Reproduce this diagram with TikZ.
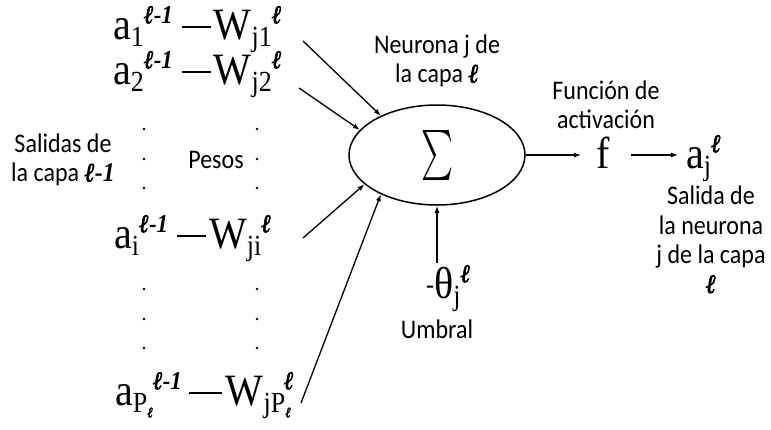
\documentclass[tikz,border=0pt]{standalone}
\usepackage{fontspec}
\usepackage{graphicx}
\setmainfont{Carlito}
\newfontfamily\tms{Liberation Serif}
\newfontface\ellf[FakeBold=2.5]{Liberation Serif Bold Italic}
\usetikzlibrary{shapes.geometric,arrows.meta}
\newcommand\vs[1]{\scalebox{1}[1.12]{#1}}
\newcommand\lblfont{\fontsize{24}{26.3}\selectfont}
\newcommand\mfont{\tms\fontsize{40}{44}\selectfont}
\newcommand\elx{{\ellf ℓ}}
\newcommand\subx[1]{\raisebox{-7pt}{\fontsize{26}{26}\selectfont #1}}
\newcommand\supx[1]{\raisebox{14pt}{\fontsize{23}{23}\selectfont\bfseries\itshape #1}}
\newcommand\dsh{\hspace{9pt}\rule[10pt]{29pt}{1.5pt}\hspace{3pt}}
\newcommand\dshw{\hspace{7pt}\rule[10pt]{33pt}{1.5pt}\hspace{4pt}}
\newcommand\pell{P\raisebox{-4pt}{\fontsize{13}{13}\selectfont\elx}}
\tikzset{
  mrow/.style={anchor=base west, inner sep=0pt, font=\mfont},
  mth/.style={inner sep=0pt, font=\mfont},
  lbl/.style={inner sep=0pt, font=\lblfont},
  arr/.style={-{Latex[length=7pt,width=5pt]}, line width=1.3pt},
  dot/.style={circle, fill, inner sep=0pt, minimum size=2.6pt},
  neuronbox/.style={draw, ellipse, line width=1.5pt, minimum width=176pt, minimum height=100pt, inner sep=0pt}
}
\begin{document}
\begin{tikzpicture}[x=1pt,y=-1pt]
\useasboundingbox (0,0) rectangle (771,429);
\fill[white] (0,0) rectangle (771,429);
% input rows
\node[mrow] (r1) at (113,39) {\vs{a\subx{1}\supx{\elx-1}\dsh W\subx{j1}\supx{\elx}}};
\node[mrow] (r2) at (113,84) {\vs{a\subx{2}\supx{\elx-1}\dsh W\subx{j2}\supx{\elx}}};
\node[mrow] (ri) at (114,248) {\vs{a\subx{i}\supx{\elx-1}\dsh W\subx{ji}\supx{\elx}}};
\node[mrow] (rP) at (115,405) {\vs{a\subx{\pell}\supx{\elx-1}\dshw W\subx{j\pell}\hspace{-7pt}\supx{\elx}}};
% dots
\foreach \yy [count=\k] in {129,159,188,289,319,348} {
  \node[dot] (dl\k) at (144,\yy) {};
  \node[dot] (dr\k) at (257,\yy) {};
}
% neuron
\node[neuronbox] (neuron) at (437,155) {\resizebox*{32pt}{50pt}{$\sum$}};
% output
\node[mth, anchor=base] (f) at (603,168) {\vs{f}};
\node[mth, anchor=base west] (aj) at (686,168) {\vs{a\subx{j}\supx{\elx}}};
% threshold
\node[mth, anchor=base west] (th) at (426,298) {\vs{\raisebox{4pt}{\fontsize{24}{24}\selectfont -}θ\subx{j}\supx{\elx}}};
% labels
\node[lbl] (salidas) at (63,161) {\vs{\begin{tabular}{@{}c@{}}Salidas de\\la capa \elx{\tms\bfseries\itshape -1}\end{tabular}}};
\node[lbl, anchor=base] (pesos) at (216,168) {\vs{Pesos}};
\node[lbl] (neulbl) at (437,62) {\vs{\begin{tabular}{@{}c@{}}Neurona j de\\la capa \elx\end{tabular}}};
\node[lbl] (funlbl) at (606,108) {\vs{\begin{tabular}{@{}c@{}}Función de\\activación\end{tabular}}};
\node[lbl] (sallbl) at (711,243) {\vs{\begin{tabular}{@{}c@{}}Salida de\\la neurona\\j de la capa\\\elx\end{tabular}}};
\node[lbl, anchor=base] (umbral) at (437,338) {\vs{Umbral}};
% input connectors
\coordinate (s1) at (303,41);
\coordinate (s2) at (299,88);
\coordinate (s3) at (303,238);
\coordinate (s4) at (301,403);
\draw[arr] (s1) -- (neuron.145);
\draw[arr] (s2) -- (neuron.162);
\draw[arr] (s3) -- (neuron.202);
\draw[arr] (s4) -- (neuron.215);
% threshold connector
\draw[arr, shorten <=2pt] (th.north -| neuron.south) -- (neuron.south);
% output connectors
\draw[arr, shorten >=15pt] (neuron.east) -- (neuron.east -| f.west);
\draw[arr, line width=1.2pt, shorten <=21pt, shorten >=8pt] (f.east |- neuron.east) -- (aj.west |- neuron.east);
\end{tikzpicture}
\end{document}
